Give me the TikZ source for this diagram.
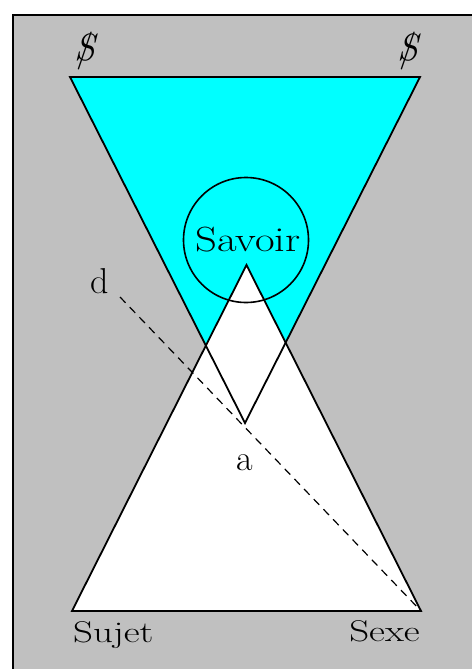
\documentclass[tikz,border=0pt]{standalone}
\usepackage{tikz}
\usetikzlibrary{calc}
\definecolor{panelgrey}{RGB}{192,192,192}
\definecolor{savoircyan}{RGB}{0,255,255}
\newcommand{\barredS}{\ooalign{\itshape S\cr\hidewidth/\hidewidth\cr}}
\newcommand{\widen}[2]{\scalebox{#1}[1]{#2}}

\begin{document}
\begin{tikzpicture}[
  x=1pt,y=-1pt,
  edge/.style={draw=black, line width=1.8pt, line join=miter},
  lbl/.style={inner sep=0pt, font=\fontsize{30}{34}\selectfont},
  letter/.style={inner sep=0pt, font=\fontsize{36}{40}\selectfont},
  biglbl/.style={inner sep=0pt, font=\fontsize{35}{40}\selectfont},
  barS/.style={inner sep=0pt, font=\fontsize{38}{42}\selectfont}
]
\useasboundingbox (0,0) rectangle (472,669);
\fill[white] (0,0) rectangle (472,669);
\fill[panelgrey] (13,15) rectangle (472,669);
\draw[line width=2.2pt] (13,669) -- (13,15) -- (472,15);

\coordinate (tl) at (70,77);
\coordinate (tr) at (420,77);
\coordinate (vbot) at (245,423);
\coordinate (bl) at (72,611);
\coordinate (br) at (421,611);
\coordinate (apex) at (246.5,265);
\coordinate (dstart) at (120,297);

\fill[savoircyan] (tl) -- (tr) -- (vbot) -- cycle;
\fill[white] (bl) -- (br) -- (apex) -- cycle;
\draw[edge] (tl) -- (tr) -- (vbot) -- cycle;
\draw[edge] (bl) -- (br) -- (apex) -- cycle;
\draw[line width=1.6pt] (246,240) circle (62.5);
\draw[line width=1.2pt, dash pattern=on 8pt off 6pt] (dstart) -- (br);

\node[barS] (sleft) at (85,52) {\barredS};
\node[barS] (sright) at (408,52) {\barredS};
\node[biglbl] (savoir) at (248,240) {\widen{1.22}{Savoir}};
\node[letter, anchor=base] (dlab) at (100,293) {d};
\node[letter, anchor=base] (alab) at (245,470) {a};
\node[lbl, anchor=base west] (sujet) at (73,642) {\widen{1.3}{Sujet}};
\node[lbl, anchor=base east] (sexe) at (420,641) {\widen{1.3}{Sexe}};
\end{tikzpicture}
\end{document}
